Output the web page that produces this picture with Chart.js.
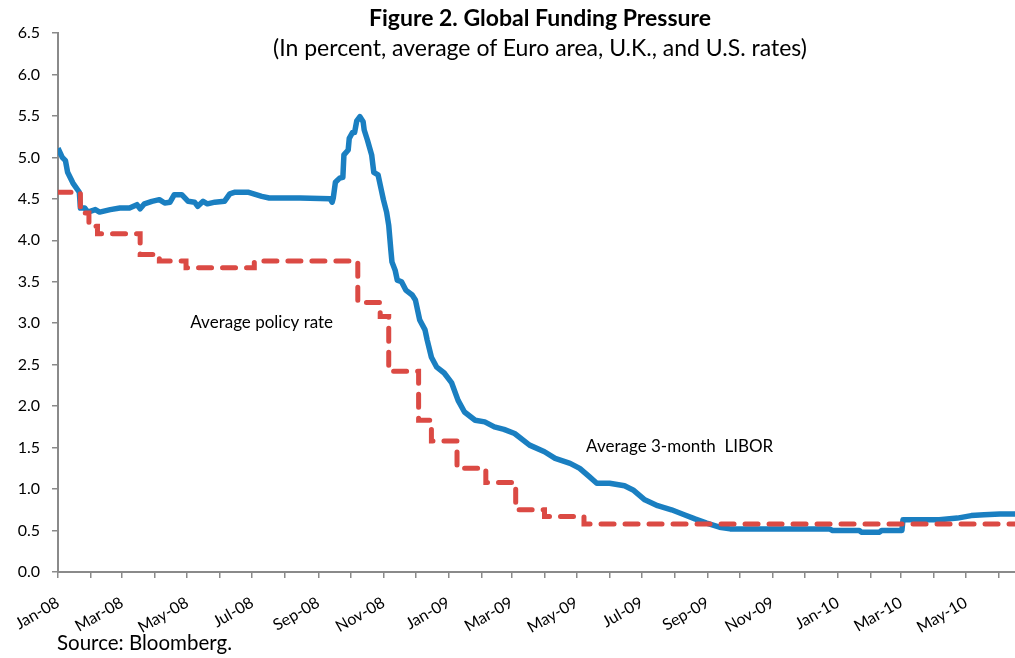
<!DOCTYPE html>
<html>
<head>
<meta charset="utf-8">
<script src="https://cdn.jsdelivr.net/npm/chart.js@4.4.0/dist/chart.umd.min.js"></script>
<style>
  body { margin: 0; background: #fff; }
  #wrap { position: relative; width: 1015px; height: 658px; font-family: Lato, "Open Sans", sans-serif; color: #000; }
  #chart { position: absolute; left: 0; top: 0; }
  .txt { position: absolute; white-space: nowrap; line-height: 1.2; }
  #title { top: 4px; left: 0; width: 1080px; text-align: center; font-weight: bold; font-size: 23px; }
  #subtitle { top: 34px; left: 0; width: 1080px; text-align: center; font-size: 23px; }
  #source { top: 630px; left: 57px; font-size: 20.5px; }
</style>
</head>
<body>
<div id="wrap">
  <canvas id="chart" width="1015" height="658"></canvas>
  <div class="txt" id="title">Figure 2. Global Funding Pressure</div>
  <div class="txt" id="subtitle">(In percent, average of Euro area, U.K., and U.S. rates)</div>
  <div class="txt" id="source">Source: Bloomberg.</div>
</div>
<script>
// DATA
const liborDates = ["2008-01-01","2008-01-05","2008-01-08","2008-01-10","2008-01-15","2008-01-21","2008-01-22","2008-01-26","2008-01-29","2008-02-05","2008-02-09","2008-02-19","2008-02-28","2008-03-08","2008-03-15","2008-03-18","2008-03-22","2008-03-29","2008-04-05","2008-04-10","2008-04-15","2008-04-19","2008-04-26","2008-05-02","2008-05-08","2008-05-11","2008-05-16","2008-05-20","2008-05-27","2008-06-05","2008-06-10","2008-06-15","2008-06-27","2008-07-10","2008-07-17","2008-08-15","2008-09-12","2008-09-14","2008-09-15","2008-09-17","2008-09-21","2008-09-24","2008-09-25","2008-09-29","2008-09-30","2008-10-03","2008-10-05","2008-10-07","2008-10-10","2008-10-13","2008-10-14","2008-10-17","2008-10-21","2008-10-23","2008-10-27","2008-10-30","2008-11-01","2008-11-04","2008-11-06","2008-11-08","2008-11-09","2008-11-12","2008-11-14","2008-11-18","2008-11-22","2008-11-28","2008-12-01","2008-12-05","2008-12-10","2008-12-12","2008-12-16","2008-12-21","2008-12-28","2009-01-04","2009-01-10","2009-01-16","2009-01-26","2009-02-04","2009-02-13","2009-02-22","2009-03-04","2009-03-18","2009-04-01","2009-04-11","2009-04-25","2009-05-04","2009-05-13","2009-05-20","2009-06-01","2009-06-15","2009-06-23","2009-07-04","2009-07-16","2009-07-29","2009-08-10","2009-08-20","2009-08-31","2009-09-12","2009-09-22","2009-12-24","2009-12-27","2010-01-21","2010-01-23","2010-02-09","2010-02-11","2010-03-02","2010-03-03","2010-04-06","2010-04-23","2010-05-06","2010-05-18","2010-06-02","2010-06-16"];
const liborRates = [5.11,5.00,4.96,4.82,4.69,4.58,4.39,4.39,4.34,4.37,4.34,4.37,4.39,4.39,4.43,4.38,4.44,4.47,4.49,4.45,4.46,4.55,4.55,4.47,4.46,4.41,4.47,4.44,4.46,4.47,4.56,4.58,4.58,4.53,4.51,4.51,4.50,4.46,4.51,4.70,4.75,4.76,5.03,5.09,5.23,5.30,5.30,5.44,5.49,5.43,5.33,5.21,5.03,4.82,4.79,4.61,4.49,4.34,4.18,3.88,3.74,3.64,3.52,3.50,3.40,3.34,3.28,3.04,2.92,2.80,2.59,2.47,2.40,2.28,2.07,1.93,1.83,1.81,1.75,1.72,1.67,1.53,1.45,1.37,1.31,1.25,1.15,1.07,1.07,1.04,0.99,0.87,0.80,0.75,0.69,0.64,0.59,0.54,0.52,0.52,0.50,0.50,0.48,0.48,0.50,0.50,0.63,0.63,0.65,0.68,0.69,0.70,0.70];

// policy rate changes (value holds until next date)
const policyDates = ["2008-01-01","2008-01-22","2008-01-30","2008-02-07","2008-03-18","2008-04-05","2008-04-30","2008-07-03","2008-10-08","2008-10-29","2008-11-06","2008-12-04","2008-12-16","2009-01-09","2009-02-05","2009-03-05","2009-04-01","2009-05-08","2010-06-16"];
const policyRates = [4.58,4.33,4.17,4.08,3.83,3.75,3.67,3.75,3.25,3.08,2.42,1.83,1.58,1.25,1.08,0.75,0.67,0.58,0.58];

const tickLabels = ["Jan-08","Mar-08","May-08","Jul-08","Sep-08","Nov-08","Jan-09","Mar-09","May-09","Jul-09","Sep-09","Nov-09","Jan-10","Mar-10","May-10"];

// days since 1 Jan 2008
const START = Date.UTC(2008, 0, 1);
function dayOf(s) {
  const p = s.split("-");
  return (Date.UTC(+p[0], +p[1] - 1, +p[2]) - START) / 864e5;
}

// monthly tick marks, label every second month
const monthTicks = [];
const monthNames = ["Jan","Feb","Mar","Apr","May","Jun","Jul","Aug","Sep","Oct","Nov","Dec"];
for (let m = 0; m < 30; m++) {
  const yr = 2008 + Math.floor(m / 12), mo = m % 12;
  const name = monthNames[mo] + "-" + String(yr).slice(2);
  monthTicks.push({ value: (Date.UTC(yr, mo, 1) - START) / 864e5, label: tickLabels.includes(name) ? name : "" });
}

const FONT = "Lato, 'Open Sans', sans-serif";
const AXIS = "#8a8a8a";

// text labels on the chart
const notes = {
  id: "notes",
  afterDatasetsDraw(chart) {
    const { ctx, scales: { x, y } } = chart;
    ctx.save();
    ctx.font = "17px " + FONT;
    ctx.fillStyle = "#000";
    ctx.textBaseline = "alphabetic";
    ctx.fillText("Average policy rate", x.getPixelForValue(dayOf("2008-05-04")), y.getPixelForValue(2.94));
    ctx.fillText("Average 3-month  LIBOR", x.getPixelForValue(dayOf("2009-05-10")), y.getPixelForValue(1.45));
    ctx.restore();
  }
};

new Chart(document.getElementById("chart"), {
  type: "line",
  data: {
    datasets: [{
      label: "Average policy rate",
      data: policyDates.map((d, i) => ({ x: dayOf(d), y: policyRates[i] })),
      borderColor: "#db4a44",
      borderWidth: 5,
      borderDash: [13, 11],
      borderCapStyle: "round",
      stepped: "before",
      pointRadius: 0,
      fill: false
    }, {
      label: "Average 3-month LIBOR",
      data: liborDates.map((d, i) => ({ x: dayOf(d), y: liborRates[i] })),
      borderColor: "#1a7fc1",
      borderWidth: 5.5,
      borderJoinStyle: "round",
      tension: 0,
      pointRadius: 0,
      fill: false
    }]
  },
  options: {
    responsive: false,
    animation: false,
    layout: { padding: { top: 33, left: 0, right: 0, bottom: 0 } },
    plugins: { legend: { display: false }, tooltip: { enabled: false } },
    scales: {
      x: {
        type: "linear",
        min: 0,
        max: dayOf("2010-06-16"),
        afterBuildTicks: axis => { axis.ticks = monthTicks.map(t => ({ value: t.value })); },
        afterFit: axis => { axis.height = 86; axis.paddingRight = 0; axis.paddingLeft = 0; },
        ticks: {
          autoSkip: false,
          minRotation: 30,
          maxRotation: 30,
          padding: 15,
          color: "#000",
          font: { family: FONT, size: 16 },
          callback: (v, i) => monthTicks[i] ? monthTicks[i].label : ""
        },
        grid: { drawOnChartArea: false, tickLength: 6, color: AXIS, lineWidth: 1.5 },
        border: { color: AXIS, width: 2 }
      },
      y: {
        min: 0,
        max: 6.5,
        afterFit: axis => { axis.width = 58; },
        ticks: {
          stepSize: 0.5,
          padding: 12,
          color: "#000",
          font: { family: FONT, size: 16 },
          callback: v => v.toFixed(1)
        },
        grid: { drawOnChartArea: false, tickLength: 6, color: AXIS, lineWidth: 1.5 },
        border: { color: AXIS, width: 2 }
      }
    }
  },
  plugins: [notes]
});
</script>
</body>
</html>
